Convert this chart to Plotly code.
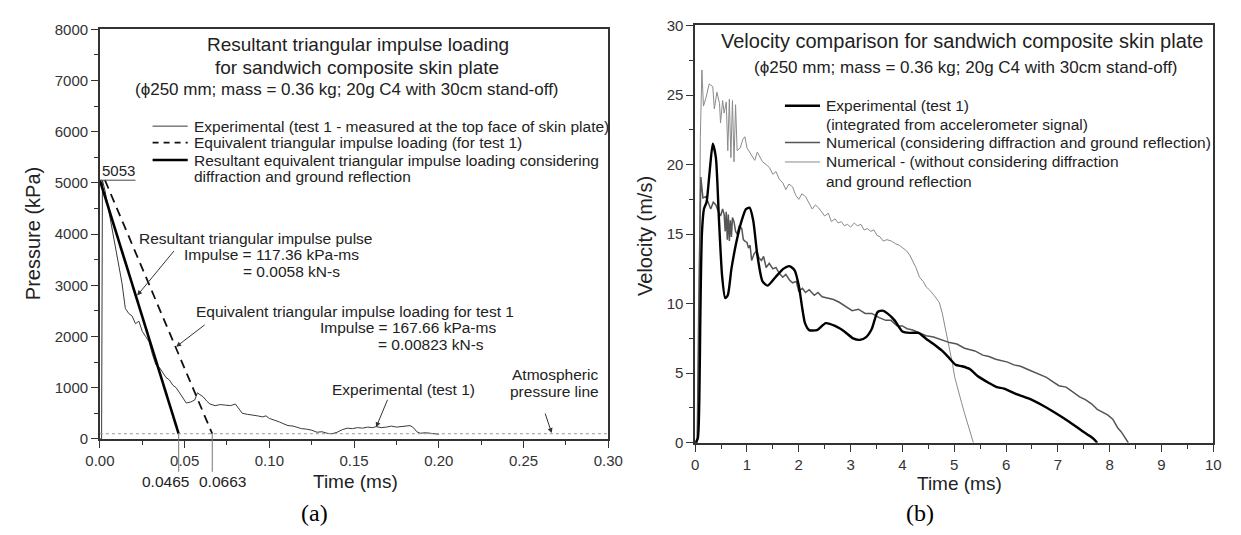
import plotly.graph_objects as go

# ---------------- data : panel (a) pressure ----------------
exp1_t = [0, 0.001, 0.0015, 0.002, 0.003, 0.005, 0.007, 0.009, 0.011, 0.013,
          0.015, 0.017, 0.019, 0.021, 0.023, 0.025, 0.027, 0.029, 0.031, 0.033,
          0.035, 0.037, 0.039, 0.041, 0.043, 0.045, 0.047, 0.049, 0.051, 0.0535,
          0.056, 0.0575, 0.059, 0.061, 0.063, 0.065, 0.068, 0.071, 0.074, 0.077,
          0.080, 0.082, 0.084, 0.087, 0.090, 0.093, 0.096, 0.098, 0.100, 0.103,
          0.106, 0.108, 0.111, 0.114, 0.117, 0.119, 0.122, 0.125, 0.128, 0.131,
          0.134, 0.137, 0.140, 0.143, 0.146, 0.149, 0.152, 0.155, 0.158, 0.161,
          0.163, 0.166, 0.169, 0.172, 0.175, 0.178, 0.181, 0.183, 0.185, 0.187,
          0.189, 0.192, 0.195, 0.198, 0.200]
exp1_p = [0, 0, 5053, 5000, 4850, 4500, 4150, 3800, 3400, 3050,
          2550, 2450, 2400, 2250, 2300, 2100, 2000, 1900, 1650, 1450,
          1400, 1300, 1200, 1150, 1050, 1000, 900, 800, 700, 720,
          760, 900, 870, 820, 740, 680, 650, 670, 660, 650,
          680, 600, 500, 480, 470, 450, 430, 450, 400, 370,
          330, 300, 260, 250, 220, 200, 190, 170, 130, 140,
          110, 100, 130, 180, 210, 200, 220, 210, 230, 220,
          240, 220, 230, 250, 230, 240, 250, 260, 220, 140,
          110, 120, 110, 100, 90]

eq_t = [0.003, 0.0663]        # equivalent triangular impulse (test 1)
eq_p = [5053, 100]
res_t = [0.0, 0.0465]         # resultant triangular impulse
res_p = [5053, 100]
atm_p = 101                   # atmospheric pressure line

xt_a = [0, 0.05, 0.10, 0.15, 0.20, 0.25, 0.30]
xt_a_txt = ["0.00", "0.05", "0.10", "0.15", "0.20", "0.25", "0.30"]
yt_a = [0, 1000, 2000, 3000, 4000, 5000, 6000, 7000, 8000]

# ---------------- data : panel (b) velocity ----------------
exp_t = [0, 0.05, 0.08, 0.1, 0.13, 0.17, 0.22, 0.28, 0.34, 0.4,
         0.46, 0.52, 0.58, 0.63, 0.7, 0.8, 0.9, 0.98, 1.05, 1.12,
         1.2, 1.3, 1.4, 1.55, 1.7, 1.82, 1.92, 2.0, 2.07, 2.12,
         2.2, 2.35, 2.52, 2.7, 2.88, 3.05, 3.18, 3.3, 3.41, 3.52,
         3.62, 3.71, 3.85, 4.0, 4.15, 4.31, 4.45, 4.6, 4.77, 4.9,
         5.03, 5.15, 5.3, 5.45, 5.67, 5.82, 5.96, 6.2, 6.49, 6.7,
         6.93, 7.1, 7.3, 7.45, 7.61, 7.7, 7.76]
exp_v = [0, 0.3, 3, 9, 15, 16.8, 17.3, 19.5, 21.5, 20.5,
         16, 12, 10.4, 10.6, 12.5, 14.5, 16, 16.8, 16.9, 16,
         13.5, 11.6, 11.3, 11.9, 12.5, 12.7, 12.4, 11.3, 9.6, 8.6,
         8.1, 8.1, 8.6, 8.4, 8.0, 7.5, 7.4, 7.6, 8.2, 9.4,
         9.5, 9.3, 8.8, 8.0, 7.9, 7.9, 7.5, 7.1, 6.6, 6.1,
         5.6, 5.5, 5.3, 4.8, 4.3, 4.0, 3.9, 3.5, 3.1, 2.7,
         2.2, 1.8, 1.3, 0.9, 0.5, 0.25, 0]

nwd_t = [0, 0.04, 0.07, 0.11, 0.15, 0.21, 0.26, 0.3, 0.35, 0.4,
         0.45, 0.49, 0.53, 0.56, 0.58, 0.6, 0.62, 0.64, 0.66, 0.68,
         0.7, 0.72, 0.75, 0.78, 0.81, 0.85, 0.9, 0.93, 0.96, 1.0,
         1.03, 1.06, 1.09, 1.14, 1.19, 1.23, 1.28, 1.32, 1.37, 1.43,
         1.5, 1.56, 1.62, 1.69, 1.75, 1.82, 1.88, 1.95, 2.0, 2.07,
         2.13, 2.2, 2.3, 2.37, 2.45, 2.55, 2.67, 2.78, 2.9, 3.03,
         3.15, 3.28, 3.41, 3.55, 3.68, 3.78, 3.9, 4.0, 4.09, 4.2,
         4.33, 4.46, 4.6, 4.75, 4.91, 5.05, 5.2, 5.29, 5.4, 5.55,
         5.67, 5.8, 5.92, 6.03, 6.15, 6.28, 6.4, 6.52, 6.65, 6.78,
         6.9, 7.02, 7.16, 7.3, 7.42, 7.53, 7.65, 7.76, 7.86, 7.96,
         8.06, 8.15, 8.22, 8.29, 8.36]
nwd_v = [0, 0, 10, 19.1, 17.6, 17.7, 17.2, 16.8, 17.3, 17.1,
         16.6, 16.3, 16.8, 16.4, 15.2, 16.6, 14.6, 16.4, 14.5, 16.0,
         14.8, 16.2, 15.9, 15.2, 15.0, 15.6, 15.4, 14.6, 14.5, 14.4,
         14.0, 14.2, 13.1, 13.6, 13.8, 13.3, 13.1, 13.4, 12.6, 12.9,
         12.5, 12.6, 12.2, 11.9, 12.1, 11.7, 11.5, 11.6, 10.9, 11.1,
         10.8, 11.0, 10.6, 10.8, 10.5, 10.4, 10.3, 10.1, 9.8, 9.5,
         9.6, 9.3, 9.3, 9.0, 8.8, 8.8, 8.4, 8.4, 8.2, 8.1,
         7.9, 7.7, 7.6, 7.4, 7.2, 7.1, 6.8, 6.7, 6.6, 6.3,
         6.2, 6.0, 5.9, 5.8, 5.6, 5.5, 5.3, 5.1, 4.9, 4.7,
         4.4, 4.1, 4.0, 3.6, 3.3, 3.1, 2.8, 2.4, 2.2, 2.0,
         1.7, 1.1, 0.8, 0.4, 0]

nwo_t = [0, 0.04, 0.07, 0.1, 0.13, 0.16, 0.21, 0.27, 0.34, 0.37,
         0.42, 0.47, 0.49, 0.53, 0.56, 0.6, 0.63, 0.66, 0.69, 0.72,
         0.75, 0.78, 0.81, 0.87, 0.92, 0.96, 1.0, 1.05, 1.1, 1.15,
         1.2, 1.25, 1.3, 1.37, 1.43, 1.5, 1.56, 1.63, 1.69, 1.75,
         1.81, 1.88, 1.94, 2.0, 2.06, 2.13, 2.2, 2.26, 2.32, 2.38,
         2.44, 2.5, 2.57, 2.63, 2.7, 2.76, 2.82, 2.88, 2.94, 3.0,
         3.07, 3.13, 3.2, 3.26, 3.32, 3.39, 3.45, 3.51, 3.57, 3.63,
         3.7, 3.79, 3.87, 3.94, 4.01, 4.08, 4.14, 4.2, 4.26, 4.33,
         4.4, 4.46, 4.52, 4.61, 4.71, 4.77, 4.82, 4.87, 4.92, 4.97,
         5.01, 5.07, 5.14, 5.2, 5.27, 5.33, 5.37]
nwo_v = [0, 0, 8, 22, 26.8, 24.2, 24.8, 25.8, 25.6, 24.0,
         25.2, 24.4, 23.0, 24.6, 23.7, 24.5, 21.0, 24.7, 20.5, 24.6,
         20.2, 24.3, 21.0, 21.2, 21.8, 22.0, 21.2, 20.9, 20.5, 20.3,
         20.9, 20.6, 20.2, 20.0, 19.8, 19.3, 19.5, 18.9, 18.7, 18.2,
         18.6, 18.4, 17.8, 17.5, 17.9, 17.7, 17.2, 16.8, 17.1, 16.9,
         16.6, 16.3, 16.5, 15.9, 16.1, 15.8, 15.9, 15.6, 15.7, 15.5,
         15.8, 15.6, 15.7, 15.3, 15.4, 15.2, 15.3, 14.9, 14.8, 14.5,
         14.6, 14.5, 14.3, 14.2, 14.0, 13.8, 13.5, 13.1, 12.6, 11.9,
         11.6, 11.2, 11.0, 10.6, 10.1, 9.3, 8.4, 7.5, 6.6, 5.6,
         4.7, 3.8, 2.9, 2.1, 1.2, 0.4, 0]

xt_b = [0, 1, 2, 3, 4, 5, 6, 7, 8, 9, 10]
yt_b = [0, 5, 10, 15, 20, 25, 30]

# ---------------- geometry (pixels of the 1241x535 page) ----------------
W, H = 1241, 535
A_X0, A_X1, A_Y0, A_Y1 = 87, 608, 21, 444      # panel (a) frame
B_X0, B_X1, B_Y0, B_Y1 = 697, 1228, 17, 448     # panel (b) frame


def px(X):
    return X / W


def py(Y):
    return 1 - Y / H


def a_x(t):  # data -> pixel x for panel (a)
    return A_X0 + (t - xt_a[0]) / (xt_a[-1] - xt_a[0]) * (A_X1 - A_X0)


FONT = "Liberation Sans, Arial, sans-serif"
SERIF = "Liberation Serif, Times New Roman, serif"
TXT = "#222"
FS = 15.5   # legend / note text size

fig = go.Figure()

# panel (a)
fig.add_trace(go.Scatter(x=exp1_t, y=exp1_p, mode="lines", xaxis="x", yaxis="y",
                         line=dict(color="#3a3a3a", width=1)))
fig.add_trace(go.Scatter(x=eq_t, y=eq_p, mode="lines", xaxis="x", yaxis="y",
                         line=dict(color="#111", width=1.8, dash="9px,6px")))
fig.add_trace(go.Scatter(x=res_t, y=res_p, mode="lines", xaxis="x", yaxis="y",
                         line=dict(color="#000", width=2.6)))

# panel (b)
fig.add_trace(go.Scatter(x=nwo_t, y=nwo_v, mode="lines", xaxis="x2", yaxis="y2",
                         line=dict(color="#8a8a8a", width=1)))
fig.add_trace(go.Scatter(x=nwd_t, y=nwd_v, mode="lines", xaxis="x2", yaxis="y2",
                         line=dict(color="#555", width=1.5)))
fig.add_trace(go.Scatter(x=exp_t, y=exp_v, mode="lines", xaxis="x2", yaxis="y2",
                         line=dict(color="#000", width=2.4, shape="spline", smoothing=0.6)))

axis_common = dict(showgrid=False, zeroline=False, showline=True, mirror=True,
                   linecolor="#333", linewidth=1.5, ticks="outside", ticklen=7,
                   tickwidth=1.2, tickcolor="#333",
                   tickfont=dict(family=FONT, size=15, color="#333"))

fig.update_layout(
    width=W, height=H, margin=dict(l=0, r=0, t=0, b=0),
    paper_bgcolor="white", plot_bgcolor="white", showlegend=False,
    xaxis=dict(domain=[px(A_X0), px(A_X1)], range=[xt_a[0], xt_a[-1]], anchor="y",
               tickvals=xt_a, ticktext=xt_a_txt,
               minor=dict(ticks="outside", ticklen=4, tickcolor="#333", dtick=0.025, tick0=0),
               **axis_common),
    yaxis=dict(domain=[py(A_Y1), py(A_Y0)], range=[yt_a[0], yt_a[-1]], anchor="x",
               tickvals=yt_a,
               minor=dict(ticks="outside", ticklen=4, tickcolor="#333", dtick=500, tick0=0),
               **axis_common),
    xaxis2=dict(domain=[px(B_X0), px(B_X1)], range=[xt_b[0], xt_b[-1]], anchor="y2",
                tickvals=xt_b,
                minor=dict(ticks="outside", ticklen=4, tickcolor="#333", dtick=0.5, tick0=0),
                **axis_common),
    yaxis2=dict(domain=[py(B_Y1), py(B_Y0)], range=[yt_b[0], yt_b[-1]], anchor="x2",
                tickvals=yt_b,
                minor=dict(ticks="outside", ticklen=4, tickcolor="#333", dtick=2.5, tick0=0),
                **axis_common),
)

ann = []
shapes = []


def text(X, Y, s, size=FS, anchor="left", family=FONT, angle=0, color=TXT):
    ann.append(dict(x=px(X), y=py(Y), xref="paper", yref="paper", text=s,
                    showarrow=False, xanchor=anchor, yanchor="middle", textangle=angle,
                    font=dict(family=family, size=size, color=color)))


def seg(X0, Y0, X1, Y1, color="#222", width=1, dash=None):
    shapes.append(dict(type="line", xref="paper", yref="paper",
                       x0=px(X0), y0=py(Y0), x1=px(X1), y1=py(Y1),
                       line=dict(color=color, width=width, dash=dash)))


# ---- panel (a) texts ----
text(351, 37, "Resultant triangular impulse loading", 19, "center")
text(350, 60, "for sandwich composite skin plate", 19, "center")
text(340, 83, "(\u03d5250 mm; mass = 0.36 kg; 20g C4 with 30cm stand-off)", 17, "center")

LA = [121, 138, 156, 173]
seg(141, LA[0], 177, LA[0], "#3a3a3a", 1)
text(181, LA[0], "Experimental (test 1 - measured at the top face of skin plate)")
seg(141, LA[1], 177, LA[1], "#111", 1.8, "6px,5px")
text(181, LA[1], "Equivalent triangular impulse loading (for test 1)")
seg(141, LA[2], 177, LA[2], "#000", 2.6)
text(181, LA[2], "Resultant equivalent triangular impulse loading considering")
text(181, LA[3], "diffraction and ground reflection")

# 5053 peak marker
shapes.append(dict(type="line", xref="x", yref="y", x0=0, x1=0.021,
                   y0=eq_p[0], y1=eq_p[0], line=dict(color="#444", width=1)))
text(106, 167, "5053", 15, "center")

text(125, 237, "Resultant triangular impulse pulse")
text(171, 254, "Impulse = 117.36 kPa-ms")
text(232, 271, "= 0.0058 kN-s")
text(183, 312, "Equivalent triangular impulse loading for test 1")
text(310, 329, "Impulse = 167.66 kPa-ms")
text(370, 347, "= 0.00823 kN-s")
text(323, 393, "Experimental (test 1)")
text(553, 377, "Atmospheric", FS, "center")
text(553, 395, "pressure line", FS, "center")

# atmospheric dotted line
shapes.append(dict(type="line", xref="x", yref="y", x0=xt_a[0], x1=xt_a[-1],
                   y0=atm_p, y1=atm_p, line=dict(color="#999", width=1, dash="dot")))

# drop lines to duration labels
for t_end in (res_t[-1], eq_t[-1]):
    seg(a_x(t_end), A_Y1 - 6, a_x(t_end), 478, "#777", 1)
text(154, 488, "0.0465", FS, "center")
text(213, 488, "0.0663", FS, "center")

# arrows
for (t, p, dx, dy) in [(0.022, 2800, 38, -46), (0.045, 1800, 30, -23),
                       (0.163, 227, 12, -29), (0.2666, 113, -7, -21)]:
    ann.append(dict(x=t, y=p, xref="x", yref="y", text="", showarrow=True,
                    ax=dx, ay=dy, arrowhead=2, arrowsize=1, arrowwidth=1,
                    arrowcolor="#333"))

# axis titles panel (a)
text(18, 232, "Pressure (kPa)", 20, "center", angle=-90)
text(349, 488, "Time (ms)", 19, "center")
text(307, 521, "(a)", 24, "center", family=SERIF, color="#000")

# ---- panel (b) texts ----
text(970, 33, "Velocity comparison for sandwich composite skin plate", 20, "center")
text(975, 60, "(\u03d5250 mm; mass = 0.36 kg; 20g C4 with 30cm stand-off)", 17, "center")

LB = [100, 119, 138, 158, 178]
seg(789, LB[0], 825, LB[0], "#000", 2.4)
text(829, LB[0], "Experimental (test 1)")
text(829, LB[1], "(integrated from accelerometer signal)")
seg(789, LB[2], 825, LB[2], "#555", 1.5)
text(829, LB[2], "Numerical (considering diffraction and ground reflection)")
seg(789, LB[3], 825, LB[3], "#8a8a8a", 1)
text(829, LB[3], "Numerical - (without considering diffraction")
text(829, LB[4], "and ground reflection")

text(645, 234, "Velocity (m/s)", 20, "center", angle=-90)
text(968, 490, "Time (ms)", 19, "center")
text(927, 521, "(b)", 24, "center", family=SERIF, color="#000")

fig.update_layout(annotations=ann, shapes=shapes)
fig.write_html("out.html")
